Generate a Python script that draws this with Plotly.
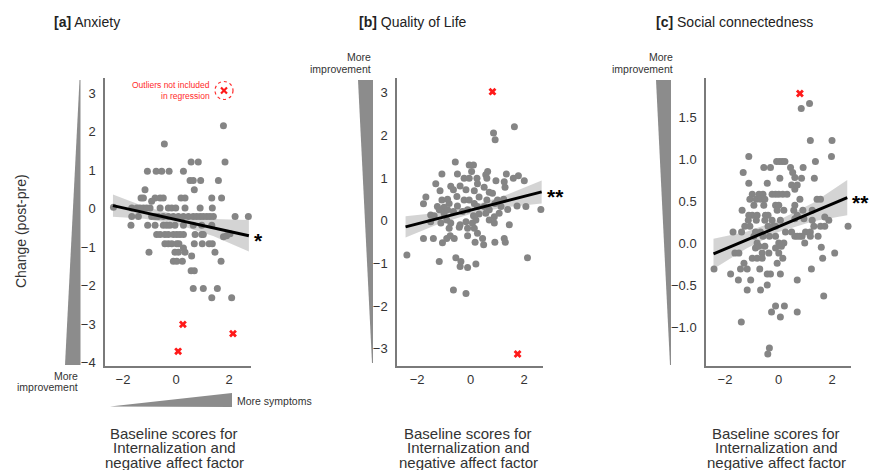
import plotly.graph_objects as go

W, H = 873, 470

# ---------------- data ----------------
# [a] Anxiety
a_x = [1.79,
       -0.44,
       0.57, 0.84, 1.85,
       -1.08, -0.75, -0.54, -0.26, 0.28,
       0.53, 0.65, 0.93, 1.60,
       -1.17, 0.69,
       -1.32, -1.23, -0.79, -0.60, -0.48, 0.19, 0.34, 1.35, 1.72,
       -0.92,
       -2.36, -1.67, -1.48, -1.36, -1.23, -1.11, -0.98, -0.60, -0.29, -0.16, -0.01, 0.34, 0.91, 1.37,
       -1.67, -1.42, -0.92, -0.79, -0.67, -0.48, -0.29, -0.10, 0.09, 0.28, 0.47, 0.65, 0.78, 0.91, 1.03, 1.16, 1.28, 1.41, 2.23, 2.73,
       -1.70, -1.07, -0.79, -0.48, -0.35, -0.23, -0.04, 0.28, 0.65, 0.97, 1.35,
       -0.73, -0.60, -0.42, -0.29, -0.10, 0.03, 0.15, 0.28, 0.72, 0.97, 1.03,
       1.79, 1.91, 2.04,
       -0.42, -0.29, -0.16, 0.03, 0.11, 0.69, 0.99, 1.25, 1.37,
       -1.02, -0.04, 0.09, 0.34, 1.47,
       0.28,
       -0.10, 0.03, 0.24, 1.70,
       0.59,
       0.57, 0.69,
       0.65, 1.03, 1.56,
       1.35, 2.10]
a_y = [2.15,
       1.68,
       1.21, 1.21, 1.21,
       0.97, 0.97, 0.97, 0.97, 0.97,
       0.73, 0.73, 0.73, 0.73,
       0.49, 0.49,
       0.28, 0.28, 0.28, 0.28, 0.28, 0.28, 0.28, 0.28, 0.28,
       0.19,
       0.04, 0.02, 0.02, 0.02, 0.02, 0.02, 0.02, 0.02, 0.02, 0.02, 0.02, 0.02, 0.02, 0.02,
       -0.20, -0.20, -0.20, -0.20, -0.20, -0.20, -0.20, -0.20, -0.20, -0.20, -0.20, -0.20, -0.20, -0.20, -0.20, -0.20, -0.20, -0.20, -0.20, -0.20,
       -0.43, -0.43, -0.43, -0.43, -0.43, -0.43, -0.43, -0.43, -0.43, -0.43, -0.43,
       -0.67, -0.67, -0.67, -0.67, -0.67, -0.67, -0.67, -0.67, -0.67, -0.67, -0.67,
       -0.73, -0.70, -0.65,
       -0.91, -0.91, -0.91, -0.91, -0.91, -0.91, -0.91, -0.91, -0.91,
       -1.13, -1.13, -1.13, -1.13, -1.13,
       -1.02,
       -1.36, -1.36, -1.36, -1.36,
       -1.23,
       -1.61, -1.61,
       -2.07, -2.07, -2.07,
       -2.31, -2.31]
a_out_x = [0.26, 0.08, 2.15]
a_out_y = [-3.00, -3.70, -3.24]
a_fit_x = [-2.38, 2.75]
a_fit_y = [0.08, -0.70]
a_band_x = [-2.38, -1.2, 0.0, 1.4, 2.75]
a_band_hi = [0.37, 0.06, -0.16, -0.27, -0.29]
a_band_lo = [-0.21, -0.26, -0.40, -0.71, -1.11]

# [b] Quality of Life
b_x = [1.64, 0.86, 0.92, -0.57, -0.05, 0.11, 0.04, 0.64,
       -1.07, -0.49, -0.24, -0.05, 0.24, 0.57, 0.61, 1.34, 1.60, 1.79,
       -1.30, -0.74, -0.39, 0.26, 0.95, 1.26, 2.01, 1.29,
       -1.14, -0.64, -0.17, 0.14, 0.51, 0.70, 0.82,
       -1.67, -1.07, -0.86, -0.51, -0.24, -0.05, 0.32, 0.61, 1.01, 1.24,
       -1.76, -1.24, -0.99, -0.80, -0.49, 0.14, 0.26, 0.51, 0.91, 1.14, 1.39, 1.74, 2.07, 2.63,
       -1.49, -1.36, -1.17, -0.99, -0.86, -0.64, -0.30, -0.11, 0.11, 0.32, 0.57, 0.70, 0.89, 1.07,
       -1.49, -1.11, -0.89, -0.74, -0.39, -0.17, 0.07, 0.20, 0.70, 0.89, 1.45,
       -0.80, -0.42, -0.11, 0.14, 0.26,
       -1.76, -1.39, -1.05, -0.89, -0.76, -0.61, -0.11, 0.17, 0.45, 0.49, 0.91, 1.26, 1.30,
       -2.38, -1.17, -0.55, -0.36, -0.39, -0.11, 0.20, 2.13,
       -0.64, -0.17]
b_y = [2.21, 2.06, 1.90, 1.38, 1.31, 1.31, 1.16, 1.16,
       1.10, 1.10, 1.00, 1.00, 1.00, 1.08, 1.00, 1.10, 1.00, 1.06,
       0.87, 0.81, 0.82, 0.87, 0.94, 0.92, 0.94, 0.79,
       0.71, 0.73, 0.73, 0.71, 0.79, 0.67, 0.65,
       0.56, 0.49, 0.51, 0.57, 0.49, 0.49, 0.56, 0.49, 0.49, 0.51,
       0.40, 0.34, 0.32, 0.41, 0.35, 0.41, 0.34, 0.34, 0.41, 0.34, 0.27, 0.35, 0.34, 0.27,
       0.14, 0.12, 0.26, 0.18, 0.26, 0.22, 0.22, 0.26, 0.12, 0.16, 0.18, 0.26, 0.10, 0.18,
       -0.02, -0.05, 0.02, -0.05, -0.09, -0.02, -0.05, 0.02, 0.02, -0.05, -0.09,
       -0.17, -0.15, -0.17, -0.17, -0.29,
       -0.41, -0.41, -0.51, -0.41, -0.35, -0.41, -0.35, -0.50, -0.41, -0.56, -0.50, -0.41, -0.50,
       -0.80, -0.95, -0.86, -0.95, -1.07, -1.09, -1.01, -0.86,
       -1.62, -1.70]
b_out_x = [0.82, 1.76]
b_out_y = [3.03, -3.12]
b_fit_x = [-2.43, 2.66]
b_fit_y = [-0.14, 0.68]
b_band_x = [-2.43, -1.2, 0.0, 1.3, 2.66]
b_band_hi = [0.11, 0.19, 0.34, 0.60, 0.95]
b_band_lo = [-0.39, -0.07, 0.16, 0.32, 0.41]

# [c] Social connectedness
c_x = [1.16, 0.85,
       1.19, 2.00, -1.11, 1.98,
       -0.07, 0.04, 0.14, 0.24, 1.38,
       -1.32, -0.55, -0.30, 0.45, 0.53, 0.92,
       0.61, -1.11, -0.42, 0.05, 0.86, 1.34, 0.49, 0.61, 0.70,
       -0.98, -0.73, -0.58, -0.24, -0.11, 0.01, 0.16, 0.32,
       -1.07, -0.83, -0.67, -0.51, 0.80, 1.44, 1.57,
       -0.92, -0.55, -0.11, 0.01, 0.61,
       -1.36, -0.05, 0.20, 0.57, 0.91, 1.26,
       -1.11, -0.98, -0.80, -0.49, -0.39, 0.70,
       -1.13, -0.83, -0.51, -0.24, 0.07, 1.26, 1.88,
       0.61, 0.95, 1.73,
       -1.26, -1.07, -0.39, -0.20, -0.11, 1.32, 1.57, 1.73, 2.60,
       -1.70, -1.38, -0.86, -0.67, 0.26, 0.49, 1.01, 1.19,
       0.61, 0.70, 0.80, 0.88, -0.92, -0.58, -0.34, -0.11, 1.19, 1.48,
       -0.80, 0.01, 0.20, 0.98,
       -0.86, -0.73, -0.51, -0.11, 0.11, 1.60,
       -1.63, -1.48, -0.61, -0.36, 0.01, 2.10,
       -0.98, -0.80, -0.61, 0.16, 1.65,
       -1.29, -0.05,
       -2.41, -1.42, -1.17, -0.70, 1.23,
       -1.79, -0.42, -0.30, 0.07,
       -1.50, -1.04, 0.70,
       -0.42, -1.17, -0.67, 1.69,
       -0.11, 0.22, -0.26, 0.07, 0.70, -1.39,
       -0.34, -0.40]
c_y = [1.66, 1.60,
       1.22, 1.22, 1.03, 1.03,
       0.97, 0.97, 0.97, 0.97, 0.97,
       0.84, 0.90, 0.90, 0.90, 0.84, 0.90,
       0.78, 0.71, 0.71, 0.77, 0.77, 0.77, 0.69, 0.64, 0.69,
       0.58, 0.58, 0.58, 0.58, 0.58, 0.58, 0.58, 0.58,
       0.52, 0.52, 0.52, 0.52, 0.52, 0.52, 0.52,
       0.45, 0.45, 0.45, 0.45, 0.45,
       0.39, 0.39, 0.39, 0.39, 0.39, 0.39,
       0.33, 0.33, 0.33, 0.33, 0.33, 0.33,
       0.27, 0.27, 0.27, 0.27, 0.27, 0.27, 0.27,
       0.29, 0.29, 0.31,
       0.20, 0.20, 0.20, 0.20, 0.20, 0.20, 0.20, 0.20, 0.20,
       0.13, 0.13, 0.13, 0.13, 0.13, 0.13, 0.13, 0.13,
       0.08, 0.08, 0.08, 0.08, 0.08, 0.08, 0.08, 0.08, 0.08, 0.08,
       0.00, 0.00, 0.00, 0.00,
       -0.06, -0.04, -0.04, -0.06, -0.04, -0.05,
       -0.12, -0.12, -0.12, -0.12, -0.12, -0.12,
       -0.18, -0.18, -0.18, -0.18, -0.18,
       -0.24, -0.24,
       -0.31, -0.31, -0.31, -0.31, -0.31,
       -0.37, -0.37, -0.37, -0.37,
       -0.44, -0.44, -0.44,
       -0.50, -0.56, -0.56, -0.63,
       -0.75, -0.75, -0.82, -0.88, -0.82, -0.94,
       -1.25, -1.32]
c_out_x = [0.80]
c_out_y = [1.78]
c_fit_x = [-2.43, 2.57]
c_fit_y = [-0.13, 0.54]
c_band_x = [-2.43, -1.2, 0.0, 1.3, 2.57]
c_band_hi = [0.05, 0.135, 0.27, 0.48, 0.75]
c_band_lo = [-0.31, -0.065, 0.13, 0.26, 0.33]

titles = ["<b>[a]</b> Anxiety", "<b>[b]</b> Quality of Life", "<b>[c]</b> Social connectedness"]
stars = ["*", "**", "**"]
xlabel_lines = ["Baseline scores for", "Internalization and", "negative affect factor"]
ylabel = "Change (post-pre)"
x_ticks = [-2, 0, 2]
a_yticks = [-4, -3, -2, -1, 0, 1, 2, 3]
b_yticks = [-3, -2, -1, 0, 1, 2, 3]
c_yticks = [-1.0, -0.5, 0.0, 0.5, 1.0, 1.5]

# ---------------- styling / layout ----------------
FONT = "Liberation Sans, Arial, Helvetica, sans-serif"
TXT = "#333333"
PT = "#858585"
BAND = "rgba(205,205,205,0.85)"
WEDGE = "#8c8c8c"


def px(x):
    return x / W


def py(y):
    return 1 - y / H


panels = [
    dict(x=a_x, y=a_y, ox=a_out_x, oy=a_out_y, fx=a_fit_x, fy=a_fit_y,
         bx=a_band_x, bh=a_band_hi, bl=a_band_lo, yt=a_yticks,
         dom=(105, 251), xr=(-2.68, 2.83), yr=(-4.08, 3.39), yfmt=None),
    dict(x=b_x, y=b_y, ox=b_out_x, oy=b_out_y, fx=b_fit_x, fy=b_fit_y,
         bx=b_band_x, bh=b_band_hi, bl=b_band_lo, yt=b_yticks,
         dom=(397, 543), xr=(-2.75, 2.71), yr=(-3.40, 3.35), yfmt=None),
    dict(x=c_x, y=c_y, ox=c_out_x, oy=c_out_y, fx=c_fit_x, fy=c_fit_y,
         bx=c_band_x, bh=c_band_hi, bl=c_band_lo, yt=c_yticks,
         dom=(706, 851), xr=(-2.71, 2.71), yr=(-1.464, 1.964), yfmt=".1f"),
]
xlab_centers = [174, 468, 776]
title_left = [52, 357, 654]

fig = go.Figure()
layout = dict(width=W, height=H, margin=dict(l=0, r=0, t=0, b=0, autoexpand=False),
              paper_bgcolor="white", plot_bgcolor="white", showlegend=False,
              font=dict(family=FONT, color=TXT, size=13))
annotations = []
shapes = []

for i, p in enumerate(panels):
    xa = "x" if i == 0 else f"x{i+1}"
    ya = "y" if i == 0 else f"y{i+1}"
    # CI band
    fig.add_trace(go.Scatter(x=p["bx"] + p["bx"][::-1], y=p["bh"] + p["bl"][::-1],
                             fill="toself", fillcolor=BAND, line=dict(width=0),
                             mode="lines", hoverinfo="skip", xaxis=xa, yaxis=ya))
    # points
    fig.add_trace(go.Scatter(x=p["x"], y=p["y"], mode="markers",
                             marker=dict(color=PT, size=7, line=dict(width=0)),
                             xaxis=xa, yaxis=ya, cliponaxis=False))
    # outliers
    fig.add_trace(go.Scatter(x=p["ox"], y=p["oy"], mode="markers",
                             marker=dict(color="#ff1a1a", size=7, symbol="x", line=dict(width=0)),
                             xaxis=xa, yaxis=ya, cliponaxis=False))
    # regression line
    fig.add_trace(go.Scatter(x=p["fx"], y=p["fy"], mode="lines",
                             line=dict(color="black", width=3),
                             xaxis=xa, yaxis=ya, cliponaxis=False))
    # significance stars
    annotations.append(dict(x=p["fx"][-1], y=p["fy"][-1], xref=xa, yref=ya,
                            text=f"<b>{stars[i]}</b>", showarrow=False,
                            xanchor="left", yanchor="middle", xshift=3, yshift=-5,
                            font=dict(size=21, color="black", family=FONT)))
    d0, d1 = p["dom"]
    axkey = "xaxis" if i == 0 else f"xaxis{i+1}"
    aykey = "yaxis" if i == 0 else f"yaxis{i+1}"
    layout[axkey] = dict(domain=[px(d0), px(d1)], range=list(p["xr"]), anchor=ya,
                         tickvals=x_ticks, showgrid=False, zeroline=False,
                         showline=True, linecolor="#7a7a7a", linewidth=1.5,
                         ticks="outside", ticklen=1, tickcolor="rgba(0,0,0,0)",
                         automargin=False,
                         tickfont=dict(size=13, color=TXT, family=FONT), fixedrange=True)
    ydict = dict(domain=[py(366), py(78)], range=list(p["yr"]), anchor=xa,
                 tickvals=p["yt"], showgrid=False, zeroline=False,
                 showline=True, linecolor="#7a7a7a", linewidth=1.5,
                 ticks="outside", ticklen=5, tickcolor="rgba(0,0,0,0)",
                 automargin=False,
                 tickfont=dict(size=13, color=TXT, family=FONT), fixedrange=True)
    if p["yfmt"]:
        ydict["tickformat"] = p["yfmt"]
    layout[aykey] = ydict

    # panel title
    annotations.append(dict(x=px(title_left[i]), y=py(22), xref="paper", yref="paper",
                            text=titles[i], showarrow=False, xanchor="left", yanchor="middle",
                            font=dict(size=14, color="#222222", family=FONT)))
    # x-axis label lines
    for k, line in enumerate(xlabel_lines):
        annotations.append(dict(x=px(xlab_centers[i]), y=py(433 + 14.7 * k), xref="paper", yref="paper",
                                text=line, showarrow=False, xanchor="center", yanchor="middle",
                                font=dict(size=15, color=TXT, family=FONT)))

# y label
annotations.append(dict(x=px(21), y=py(231), xref="paper", yref="paper", text=ylabel,
                        textangle=-90, showarrow=False, xanchor="center", yanchor="middle",
                        font=dict(size=14, color=TXT, family=FONT)))

# "More improvement" labels
small = dict(size=10.5, color=TXT, family=FONT)
for (xr, y1, y2) in [(80, 376, 387), (373, 57, 69), (675, 57, 69)]:
    annotations.append(dict(x=px(xr), y=py(y1), xref="paper", yref="paper", text="More",
                            showarrow=False, xanchor="right", yanchor="middle", font=small))
    annotations.append(dict(x=px(xr), y=py(y2), xref="paper", yref="paper", text="improvement",
                            showarrow=False, xanchor="right", yanchor="middle", font=small))
annotations.append(dict(x=px(235), y=py(401), xref="paper", yref="paper", text="More symptoms",
                        showarrow=False, xanchor="left", yanchor="middle", font=small))

# outlier legend note
red_small = dict(size=8.5, color="#ff2a2a", family=FONT)
annotations.append(dict(x=px(212), y=py(85), xref="paper", yref="paper", text="Outliers not included",
                        showarrow=False, xanchor="right", yanchor="middle", font=red_small))
annotations.append(dict(x=px(212), y=py(96), xref="paper", yref="paper", text="in regression",
                        showarrow=False, xanchor="right", yanchor="middle", font=red_small))


def tri(pts):
    s = "M " + " L ".join(f"{px(a):.5f},{py(b):.5f}" for a, b in pts) + " Z"
    return dict(type="path", path=s, xref="paper", yref="paper",
                fillcolor=WEDGE, line=dict(width=0), layer="below")


shapes.append(tri([(79.5, 80), (80.5, 80), (80.5, 365), (65, 365)]))      # a vertical
shapes.append(tri([(110, 406.5), (232, 393), (232, 407)]))               # a horizontal
shapes.append(tri([(358, 80), (373, 80), (373, 363), (372, 363)]))       # b vertical
shapes.append(tri([(656, 80), (671, 80), (671, 365), (670, 365)]))       # c vertical

# dashed circle with red cross (legend for outliers)
cx, cy, r = 224, 90.5, 9
shapes.append(dict(type="circle", xref="paper", yref="paper",
                   x0=px(cx - r), x1=px(cx + r), y0=py(cy + r), y1=py(cy - r),
                   line=dict(color="#ff2a2a", width=1.2, dash="dot")))
for (dx0, dy0, dx1, dy1) in [(-3, -3, 3, 3), (-3, 3, 3, -3)]:
    shapes.append(dict(type="line", xref="paper", yref="paper",
                       x0=px(cx + dx0), y0=py(cy + dy0), x1=px(cx + dx1), y1=py(cy + dy1),
                       line=dict(color="#ff1a1a", width=2.2)))

layout["annotations"] = annotations
layout["shapes"] = shapes
fig.update_layout(**layout)
fig.write_html("out.html", config={"displayModeBar": False},
               post_script="document.body.style.margin='0px';document.body.style.overflow='hidden';")
